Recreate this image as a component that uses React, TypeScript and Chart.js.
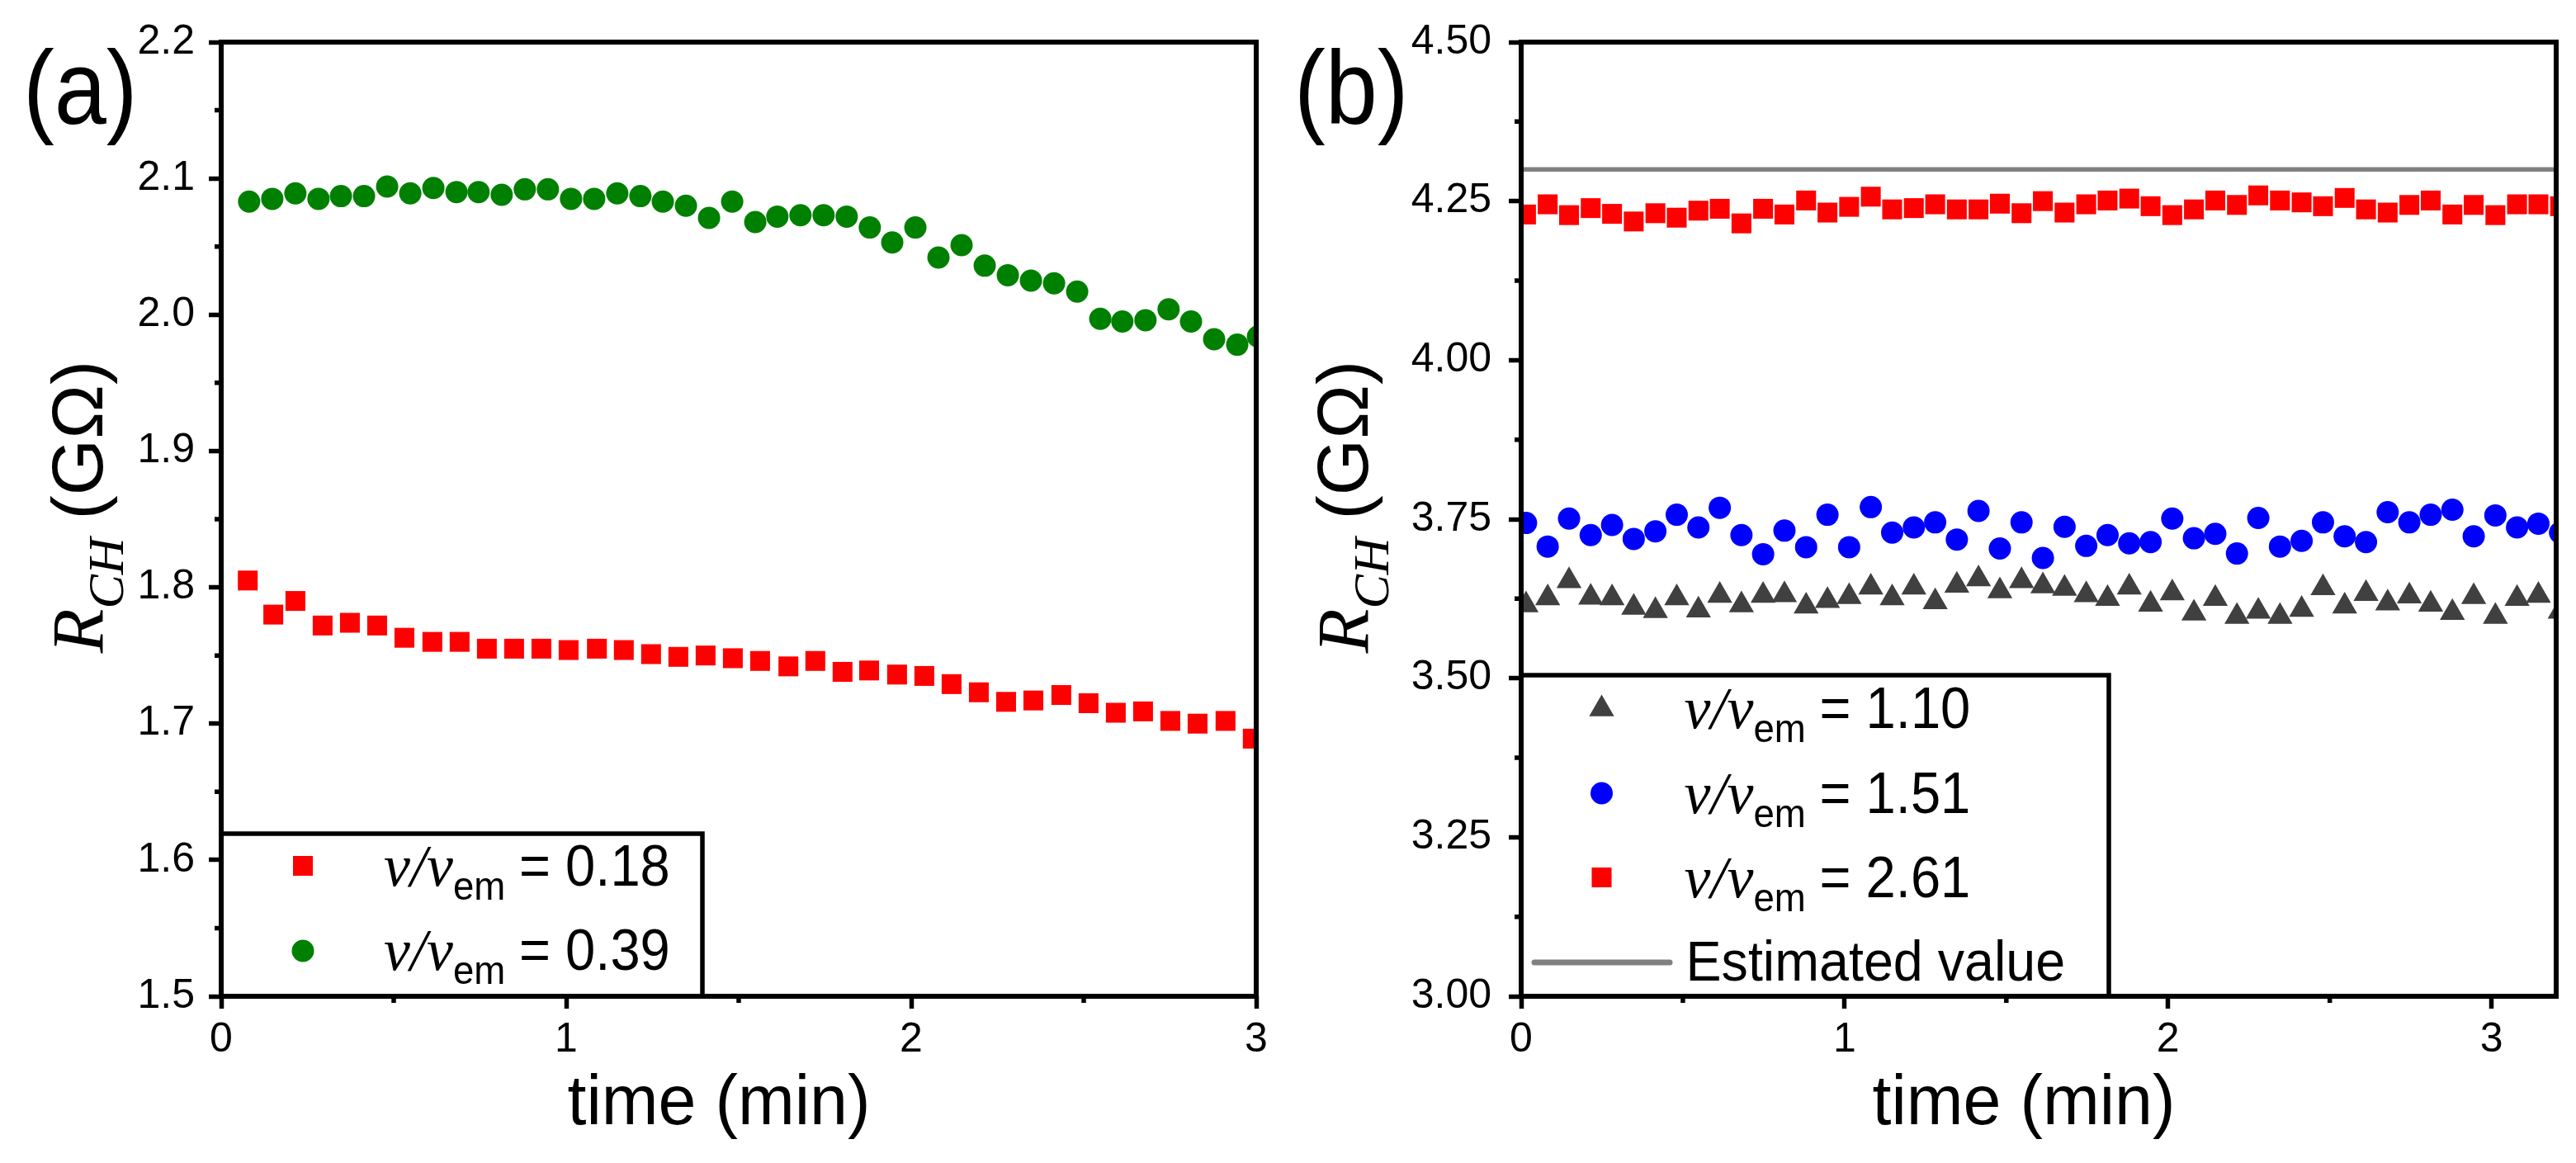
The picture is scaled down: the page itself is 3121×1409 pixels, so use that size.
import { useEffect, useRef } from "react"
import { Chart, registerables, type Plugin } from "chart.js"

Chart.register(...registerables)

// panel (a)
const timeA018 = [0.077, 0.151, 0.215, 0.294, 0.373, 0.452, 0.531, 0.612, 0.691, 0.77, 0.849, 0.928, 1.007, 1.089, 1.167, 1.246, 1.325, 1.404, 1.483, 1.562, 1.644, 1.722, 1.801, 1.878, 1.959, 2.038, 2.117, 2.196, 2.275, 2.354, 2.435, 2.514, 2.593, 2.672, 2.751, 2.83, 2.911, 2.99]
const rA018 = [1.805, 1.78, 1.79, 1.772, 1.774, 1.772, 1.763, 1.76, 1.76, 1.755, 1.755, 1.755, 1.754, 1.755, 1.754, 1.751, 1.749, 1.75, 1.748, 1.746, 1.742, 1.746, 1.738, 1.739, 1.736, 1.735, 1.729, 1.723, 1.716, 1.717, 1.721, 1.715, 1.708, 1.709, 1.702, 1.7, 1.702, 1.689]
const timeA039 = [0.081, 0.148, 0.215, 0.282, 0.347, 0.414, 0.481, 0.548, 0.615, 0.682, 0.746, 0.813, 0.88, 0.947, 1.014, 1.081, 1.148, 1.215, 1.28, 1.347, 1.414, 1.481, 1.548, 1.612, 1.679, 1.746, 1.813, 1.88, 1.945, 2.012, 2.079, 2.146, 2.213, 2.28, 2.347, 2.414, 2.481, 2.548, 2.612, 2.679, 2.746, 2.811, 2.878, 2.945, 3.005]
const rA039 = [2.083, 2.085, 2.089, 2.085, 2.087, 2.087, 2.094, 2.089, 2.093, 2.09, 2.09, 2.088, 2.092, 2.092, 2.085, 2.085, 2.089, 2.087, 2.083, 2.08, 2.071, 2.083, 2.068, 2.072, 2.073, 2.073, 2.072, 2.064, 2.053, 2.064, 2.042, 2.051, 2.036, 2.029, 2.025, 2.023, 2.017, 1.997, 1.995, 1.996, 2.004, 1.995, 1.982, 1.978, 1.984]

// panel (b)
const timeB = [0.015, 0.082, 0.148, 0.215, 0.281, 0.348, 0.415, 0.481, 0.548, 0.614, 0.681, 0.748, 0.814, 0.881, 0.947, 1.014, 1.081, 1.147, 1.214, 1.28, 1.347, 1.414, 1.48, 1.547, 1.613, 1.68, 1.747, 1.813, 1.88, 1.946, 2.013, 2.08, 2.146, 2.213, 2.279, 2.346, 2.413, 2.479, 2.546, 2.612, 2.679, 2.746, 2.812, 2.879, 2.945, 3.012, 3.079, 3.145, 3.212]
const rB110 = [3.615, 3.626, 3.653, 3.627, 3.626, 3.611, 3.606, 3.626, 3.607, 3.63, 3.615, 3.63, 3.631, 3.613, 3.622, 3.628, 3.643, 3.626, 3.643, 3.62, 3.646, 3.656, 3.637, 3.653, 3.645, 3.641, 3.631, 3.625, 3.643, 3.616, 3.634, 3.602, 3.625, 3.597, 3.605, 3.597, 3.608, 3.642, 3.613, 3.633, 3.618, 3.629, 3.616, 3.603, 3.628, 3.597, 3.625, 3.63, 3.605]
const rB151 = [3.744, 3.707, 3.751, 3.725, 3.741, 3.719, 3.731, 3.757, 3.737, 3.768, 3.725, 3.695, 3.732, 3.706, 3.757, 3.706, 3.769, 3.729, 3.737, 3.745, 3.718, 3.763, 3.704, 3.745, 3.689, 3.738, 3.708, 3.725, 3.712, 3.714, 3.751, 3.72, 3.727, 3.696, 3.752, 3.707, 3.716, 3.745, 3.723, 3.714, 3.761, 3.745, 3.757, 3.765, 3.723, 3.756, 3.737, 3.743, 3.729]
const rB261 = [4.229, 4.245, 4.228, 4.239, 4.23, 4.218, 4.231, 4.224, 4.235, 4.238, 4.215, 4.238, 4.229, 4.251, 4.232, 4.241, 4.257, 4.237, 4.239, 4.245, 4.237, 4.237, 4.246, 4.231, 4.25, 4.232, 4.245, 4.251, 4.254, 4.242, 4.228, 4.237, 4.251, 4.244, 4.259, 4.251, 4.248, 4.242, 4.255, 4.237, 4.232, 4.244, 4.251, 4.229, 4.244, 4.228, 4.245, 4.245, 4.242]
const estimatedTime = [0, 3.2]
const estimatedValue = [4.3, 4.3]

// axes
const minorXA = [0.5, 1.5, 2.5]
const minorYA = [1.55, 1.65, 1.75, 1.85, 1.95, 2.05, 2.15]
const minorXB = [0.5, 1.5, 2.5]
const minorYB = [3.125, 3.375, 3.625, 3.875, 4.125, 4.375]

const SANS = '"Liberation Sans", Arial, sans-serif'
const SERIF = '"Liberation Serif", "Times New Roman", serif'
const RED = "#ff0000"
const GREEN = "#008000"
const BLUE = "#0000ff"
const DARK = "#404040"
const GREY = "#808080"

const pts = (xs: number[], ys: number[]) => xs.map((x, i) => ({ x, y: ys[i] }))

type Run = { text: string; font: string; dy?: number; sx?: number; gap?: number }

function runWidth(ctx: CanvasRenderingContext2D, r: Run) {
  ctx.font = r.font
  return ctx.measureText(r.text).width * (r.sx ?? 1) + (r.gap ?? 0)
}

function drawRuns(ctx: CanvasRenderingContext2D, runs: Run[], x: number, y: number) {
  let cx = x
  for (const r of runs) {
    ctx.save()
    ctx.font = r.font
    ctx.translate(cx, y + (r.dy ?? 0))
    ctx.scale(r.sx ?? 1, 1)
    ctx.fillText(r.text, 0, 0)
    ctx.restore()
    cx += runWidth(ctx, r)
  }
}

function marker(ctx: CanvasRenderingContext2D, style: string, color: string, x: number, y: number) {
  ctx.fillStyle = color
  ctx.beginPath()
  if (style === "rect") {
    const h = 17 * Math.SQRT1_2
    ctx.rect(x - h, y - h, 2 * h, 2 * h)
  } else if (style === "circle") {
    ctx.arc(x, y, 13.5, 0, Math.PI * 2)
  } else {
    const r = 17.5
    ctx.moveTo(x, y - r)
    ctx.lineTo(x + r * Math.sin((2 * Math.PI) / 3), y + r / 2)
    ctx.lineTo(x - r * Math.sin((2 * Math.PI) / 3), y + r / 2)
    ctx.closePath()
  }
  ctx.fill()
}

type Row = { style: string; color: string; my: number; base: number; value: string }
type Decor = {
  label: string
  labelX: number
  yTitleX: number
  xTitleX: number
  minorX: number[]
  minorY: number[]
  box: [number, number, number, number]
  markerX: number
  textX: number
  rows: Row[]
  line?: { x1: number; x2: number; y: number; base: number }
}

function decorPlugin(d: Decor): Plugin {
  return {
    id: "decor",
    afterDraw(chart) {
      const ctx = chart.ctx
      const a = chart.chartArea
      const xs = chart.scales.x
      const ys = chart.scales.y
      ctx.save()
      ctx.fillStyle = "#000"
      ctx.strokeStyle = "#000"

      // minor ticks
      ctx.lineWidth = 5.5
      ctx.beginPath()
      for (const v of d.minorX) {
        const px = xs.getPixelForValue(v)
        ctx.moveTo(px, a.bottom)
        ctx.lineTo(px, a.bottom + 8)
      }
      for (const v of d.minorY) {
        const py = ys.getPixelForValue(v)
        ctx.moveTo(a.left, py)
        ctx.lineTo(a.left - 8, py)
      }
      ctx.stroke()

      // legend box
      const [bx1, by1, bx2, by2] = d.box
      ctx.fillStyle = "#fff"
      ctx.fillRect(bx1, by1, bx2 - bx1, by2 - by1)
      ctx.lineWidth = 5.5
      ctx.strokeRect(bx1, by1, bx2 - bx1, by2 - by1)

      // frame
      ctx.lineWidth = 6
      ctx.strokeRect(a.left, a.top, a.right - a.left, a.bottom - a.top)

      // legend rows
      for (const r of d.rows) {
        marker(ctx, r.style, r.color, d.markerX, r.my)
        ctx.fillStyle = "#000"
        ctx.textBaseline = "alphabetic"
        ctx.textAlign = "left"
        drawRuns(ctx, [
          { text: "v/v", font: `italic 72px ${SERIF}` },
          { text: "em", font: `48px ${SANS}`, dy: 17, sx: 0.95 },
        ], d.textX, r.base)
        drawRuns(ctx, [{ text: `= ${r.value}`, font: `70px ${SANS}`, sx: 0.93 }], d.textX + 164, r.base)
      }
      if (d.line) {
        ctx.strokeStyle = GREY
        ctx.lineWidth = 7
        ctx.lineCap = "round"
        ctx.beginPath()
        ctx.moveTo(d.line.x1, d.line.y)
        ctx.lineTo(d.line.x2, d.line.y)
        ctx.stroke()
        ctx.fillStyle = "#000"
        drawRuns(ctx, [{ text: "Estimated value", font: `68px ${SANS}`, sx: 0.95 }], d.textX + 2, d.line.base)
      }

      // panel label
      ctx.fillStyle = "#000"
      drawRuns(ctx, [{ text: d.label, font: `126px ${SANS}`, sx: 0.9 }], d.labelX, 150)

      // x title
      const xRuns: Run[] = [{ text: "time (min)", font: `86px ${SANS}`, sx: 0.96 }]
      const xw = runWidth(ctx, xRuns[0])
      drawRuns(ctx, xRuns, d.xTitleX - xw / 2, 1362)

      // y title (rotated)
      const yRuns: Run[] = [
        { text: "R", font: `italic 88px ${SERIF}` },
        { text: "CH", font: `italic 62px ${SERIF}`, dy: 25, gap: 22 },
        { text: "(G\u03a9)", font: `88px ${SANS}` },
      ]
      const yw = yRuns.reduce((s, r) => s + runWidth(ctx, r), 0)
      ctx.save()
      ctx.translate(d.yTitleX, 614)
      ctx.rotate(-Math.PI / 2)
      drawRuns(ctx, yRuns, -yw / 2, 0)
      ctx.restore()

      ctx.restore()
    },
  }
}

function axes(xMax: number, yMin: number, yMax: number, yStep: number, digits: number, left: number, pad: number) {
  return {
    x: {
      type: "linear" as const,
      min: 0,
      max: xMax,
      border: { display: false },
      grid: { drawOnChartArea: false, drawTicks: true, tickLength: 15, tickWidth: 5.5, tickColor: "#000" },
      ticks: {
        stepSize: 1,
        includeBounds: false,
        autoSkip: false,
        maxRotation: 0,
        padding: 8,
        color: "#000",
        font: { family: SANS, size: 50 },
        callback: (v: string | number) => String(Math.round(Number(v))),
      },
      afterFit: (s: any) => {
        s.height = 202
      },
    },
    y: {
      type: "linear" as const,
      min: yMin,
      max: yMax,
      border: { display: false },
      grid: { drawOnChartArea: false, drawTicks: true, tickLength: 15, tickWidth: 5.5, tickColor: "#000" },
      ticks: {
        stepSize: yStep,
        autoSkip: false,
        padding: pad,
        color: "#000",
        font: { family: SANS, size: 50 },
        callback: (v: string | number) => Number(v).toFixed(digits),
      },
      afterFit: (s: any) => {
        s.width = left
      },
    },
  }
}

const scatter = (data: { x: number; y: number }[], style: string, radius: number, color: string) => ({
  data,
  pointStyle: style,
  pointRadius: radius,
  pointBackgroundColor: color,
  pointBorderWidth: 0,
  showLine: false,
  clip: 0,
})

export default function App() {
  const refA = useRef<HTMLCanvasElement>(null)
  const refB = useRef<HTMLCanvasElement>(null)

  useEffect(() => {
    if (!refA.current || !refB.current) return
    const common = {
      responsive: false,
      animation: false as const,
      devicePixelRatio: 1,
      events: [],
      plugins: { legend: { display: false }, tooltip: { enabled: false } },
    }

    const chartA = new Chart(refA.current, {
      type: "scatter",
      data: {
        datasets: [
          scatter(pts(timeA039, rA039), "circle", 13.5, GREEN),
          scatter(pts(timeA018, rA018), "rect", 17, RED),
        ] as any,
      },
      options: {
        ...common,
        layout: { padding: { left: 0, top: 51, right: 38, bottom: 0 } },
        scales: axes(3, 1.5, 2.2, 0.1, 1, 268, 17) as any,
      } as any,
      plugins: [
        decorPlugin({
          label: "(a)",
          labelX: 28,
          yTitleX: 124,
          xTitleX: 871,
          minorX: minorXA,
          minorY: minorYA,
          box: [268, 1010, 851, 1207],
          markerX: 367,
          textX: 465,
          rows: [
            { style: "rect", color: RED, my: 1049, base: 1073, value: "0.18" },
            { style: "circle", color: GREEN, my: 1152, base: 1175, value: "0.39" },
          ],
        }),
      ],
    })

    const chartB = new Chart(refB.current, {
      type: "scatter",
      data: {
        datasets: [
          {
            data: pts(estimatedTime, estimatedValue),
            showLine: true,
            borderColor: GREY,
            borderWidth: 5.5,
            pointRadius: 0,
            clip: 0,
          },
          scatter(pts(timeB, rB110), "triangle", 17.5, DARK),
          scatter(pts(timeB, rB151), "circle", 13.5, BLUE),
          scatter(pts(timeB, rB261), "rect", 17, RED),
        ] as any,
      },
      options: {
        ...common,
        layout: { padding: { left: 0, top: 51, right: 24, bottom: 0 } },
        scales: axes(3.2, 3, 4.5, 0.25, 2, 283, 21) as any,
      } as any,
      plugins: [
        decorPlugin({
          label: "(b)",
          labelX: 8,
          yTitleX: 97,
          xTitleX: 892,
          minorX: minorXB,
          minorY: minorYB,
          box: [283, 818, 995, 1207],
          markerX: 380.5,
          textX: 480.5,
          rows: [
            { style: "triangle", color: DARK, my: 859, base: 882, value: "1.10" },
            { style: "circle", color: BLUE, my: 961, base: 985, value: "1.51" },
            { style: "rect", color: RED, my: 1063, base: 1087, value: "2.61" },
          ],
          line: { x1: 299, x2: 463, y: 1166, base: 1188 },
        }),
      ],
    })

    return () => {
      chartA.destroy()
      chartB.destroy()
    }
  }, [])

  return (
    <div style={{ position: "absolute", left: 0, top: 0, width: 3121, height: 1409, background: "#fff" }}>
      <canvas ref={refA} width={1560} height={1409} style={{ position: "absolute", left: 0, top: 0 }} />
      <canvas ref={refB} width={1561} height={1409} style={{ position: "absolute", left: 1560, top: 0 }} />
    </div>
  )
}
